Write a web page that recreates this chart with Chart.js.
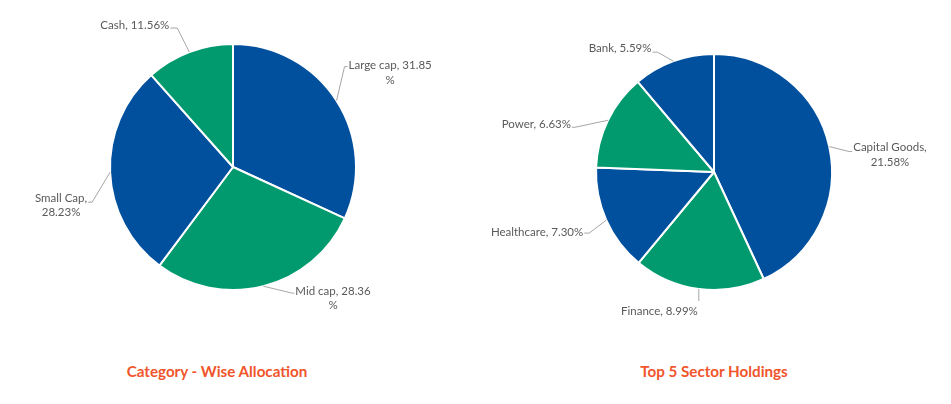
<!DOCTYPE html>
<html>
<head>
<meta charset="utf-8">
<script src="https://cdn.jsdelivr.net/npm/chart.js@4.4.0/dist/chart.umd.min.js"></script>
<style>
  html, body { margin: 0; padding: 0; background: #ffffff; }
  body { width: 951px; height: 404px; position: relative; overflow: hidden; }
  canvas { position: absolute; top: 0; }
  #c1 { left: 0; }
  #c2 { left: 475px; }
  .title { position: absolute; top: 362px; font-family: Lato, "Liberation Sans", sans-serif; font-weight: bold; font-size: 15.2px; color: #F0552B; white-space: nowrap; transform: translateX(-50%); }
</style>
</head>
<body>
<canvas id="c1" width="475" height="340"></canvas>
<canvas id="c2" width="476" height="340"></canvas>
<div class="title" id="t1" style="left:217px">Category - Wise Allocation</div>
<div class="title" id="t2" style="left:714px">Top 5 Sector Holdings</div>
<script>
// ---- Data ----
const categoryLabels = ["Large cap", "Mid cap", "Small Cap", "Cash"];
const categoryValues = [31.85, 28.36, 28.23, 11.56];
const categoryLabelText = [["Large cap, 31.85", "%"], ["Mid cap, 28.36", "%"], ["Small Cap,", "28.23%"], ["Cash, 11.56%"]];

const sectorLabels = ["Capital Goods", "Finance", "Healthcare", "Power", "Bank"];
const sectorValues = [21.58, 8.99, 7.30, 6.63, 5.59];
const sectorLabelText = [["Capital Goods,", "21.58%"], ["Finance, 8.99%"], ["Healthcare, 7.30%"], ["Power, 6.63%"], ["Bank, 5.59%"]];

// ---- Styling ----
const BLUE = "#00509E";
const GREEN = "#009A6E";
const categoryColors = [BLUE, GREEN, BLUE, GREEN];
const sectorColors = [BLUE, GREEN, BLUE, GREEN, BLUE];

// leader-line layout per label: elbow offset from arc anchor, horizontal run, text side, first-line offset
const categoryLeader = [
  { ex: 8, ey: -34, hx: 3, side: "right", ty: -1 },
  { ex: 29, ey: 7, hx: 2, side: "right", ty: -2 },
  { ex: -18, ey: 30, hx: -4, side: "left", ty: -4 },
  { ex: -12, ey: -24, hx: -7, side: "left", ty: -3 }
];
const sectorLeader = [
  { ex: 20, ey: 5, hx: 3, side: "right", ty: -4 },
  { ex: 0, ey: 12, hx: 0, side: "left", ty: 10 },
  { ex: -17, ey: 13, hx: -5, side: "left", ty: -1 },
  { ex: -33, ey: 7, hx: -3, side: "left", ty: -3 },
  { ex: -16, ey: -9, hx: -5, side: "left", ty: -4 }
];

const LABEL_FONT = "11.5px Lato, 'Liberation Sans', sans-serif";
const LINE_H = 14.5;

const leaderPlugin = {
  id: "leaderLabels",
  afterDatasetsDraw(chart, args, opts) {
    const ctx = chart.ctx;
    const meta = chart.getDatasetMeta(0);
    ctx.save();
    ctx.font = LABEL_FONT;
    ctx.textBaseline = "middle";
    meta.data.forEach((arc, i) => {
      const p = arc.getProps(["x", "y", "startAngle", "endAngle", "outerRadius"], true);
      const mid = (p.startAngle + p.endAngle) / 2;
      const ax = p.x + Math.cos(mid) * p.outerRadius;
      const ay = p.y + Math.sin(mid) * p.outerRadius;
      const L = opts.layout[i];
      const exx = ax + L.ex, eyy = ay + L.ey;
      const endx = exx + L.hx;
      ctx.strokeStyle = "#A6A6A6";
      ctx.lineWidth = 1;
      ctx.beginPath();
      ctx.moveTo(ax, ay);
      ctx.lineTo(exx, eyy);
      ctx.lineTo(endx, eyy);
      ctx.stroke();
      const lines = opts.texts[i];
      const maxW = Math.max(...lines.map(t => ctx.measureText(t).width));
      let cx;
      if (L.side === "right") cx = endx + 1 + maxW / 2;
      else cx = endx - 1 - maxW / 2;
      ctx.fillStyle = "#595959";
      ctx.textAlign = "center";
      lines.forEach((t, k) => {
        ctx.fillText(t, cx, eyy + L.ty + k * LINE_H);
      });
    });
    ctx.restore();
  }
};

function makePie(id, labels, values, colors, texts, layout, padding) {
  return new Chart(document.getElementById(id), {
    type: "pie",
    data: {
      labels: labels,
      datasets: [{
        data: values,
        backgroundColor: colors,
        borderColor: "#ffffff",
        borderWidth: 2,
        hoverOffset: 0
      }]
    },
    options: {
      responsive: false,
      animation: false,
      layout: { padding: padding },
      plugins: {
        legend: { display: false },
        tooltip: { enabled: false },
        leaderLabels: { texts: texts, layout: layout }
      }
    },
    plugins: [leaderPlugin]
  });
}

makePie("c1", categoryLabels, categoryValues, categoryColors, categoryLabelText, categoryLeader,
  { left: 109, right: 118, top: 43, bottom: 49 });
makePie("c2", sectorLabels, sectorValues, sectorColors, sectorLabelText, sectorLeader,
  { left: 120, right: 118, top: 53, bottom: 49 });
</script>
</body>
</html>
